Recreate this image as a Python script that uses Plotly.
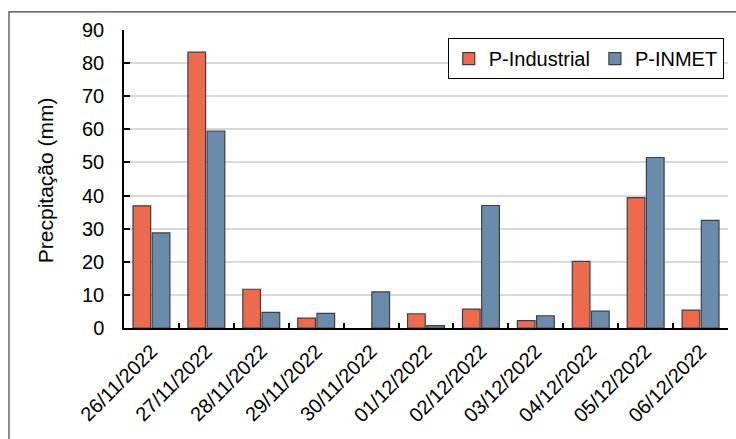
import plotly.graph_objects as go

# Daily precipitation (mm) per station
dates = ["26/11/2022", "27/11/2022", "28/11/2022", "29/11/2022", "30/11/2022",
         "01/12/2022", "02/12/2022", "03/12/2022", "04/12/2022", "05/12/2022",
         "06/12/2022"]
p_industrial = [36.9, 83.3, 11.7, 3.0, 0.0, 4.3, 5.7, 2.2, 20.1, 39.4, 5.4]
p_inmet = [28.7, 59.5, 4.7, 4.4, 10.9, 0.7, 37.0, 3.7, 5.1, 51.5, 32.5]
y_ticks = [0, 10, 20, 30, 40, 50, 60, 70, 80, 90]

FONT = "Liberation Sans, Arial, sans-serif"
EDGE_COLOR = "#3a3f47"


def edge(values):
    # no outline on empty (zero) bars
    return dict(color=EDGE_COLOR, width=[1.2 if v > 0 else 0 for v in values])


fig = go.Figure()
fig.add_trace(go.Bar(x=dates, y=p_industrial, name="P-Industrial",
                     marker=dict(color="#EE6A4C", line=edge(p_industrial))))
fig.add_trace(go.Bar(x=dates, y=p_inmet, name="P-INMET",
                     marker=dict(color="#6A8CAC", line=edge(p_inmet))))

fig.update_layout(
    width=736, height=439,
    margin=dict(l=124, r=8, t=30, b=111),
    paper_bgcolor="white", plot_bgcolor="white",
    font=dict(family=FONT, size=20, color="black"),
    barmode="group", bargap=0.30, bargroupgap=0.08,
    showlegend=True,
    legend=dict(orientation="h", x=0.536, y=0.973, xanchor="left", yanchor="top",
                bordercolor="black", borderwidth=1, bgcolor="white",
                font=dict(size=20), itemwidth=30, tracegroupgap=0),
    xaxis=dict(tickangle=-45, showline=True, linecolor="black", linewidth=1.5,
               ticks="inside", ticklen=5, tickcolor="black", tickwidth=1.5,
               tickson="boundaries", showgrid=False, ticklabelstandoff=2,
               tickfont=dict(size=20)),
    yaxis=dict(range=[0, 90], tickvals=y_ticks, showline=True, linecolor="black",
               linewidth=1.5, ticks="inside", ticklen=6, tickcolor="black",
               tickwidth=1.5, showgrid=True, gridcolor="#d9d9d9", gridwidth=1.5,
               zeroline=False, ticklabelstandoff=14, tickfont=dict(size=20)),
    annotations=[dict(text="Precpitação (mm)", textangle=-90, x=-0.1308, y=0.496,
                      xref="paper", yref="paper", showarrow=False,
                      font=dict(size=21), xanchor="center", yanchor="middle")],
    shapes=[dict(type="rect", xref="paper", yref="paper",
                 x0=-0.1904, x1=1.03, y0=-0.40, y1=1.0605,
                 line=dict(color="#404040", width=1.2), layer="above")],
)

fig.write_html("out.html")
